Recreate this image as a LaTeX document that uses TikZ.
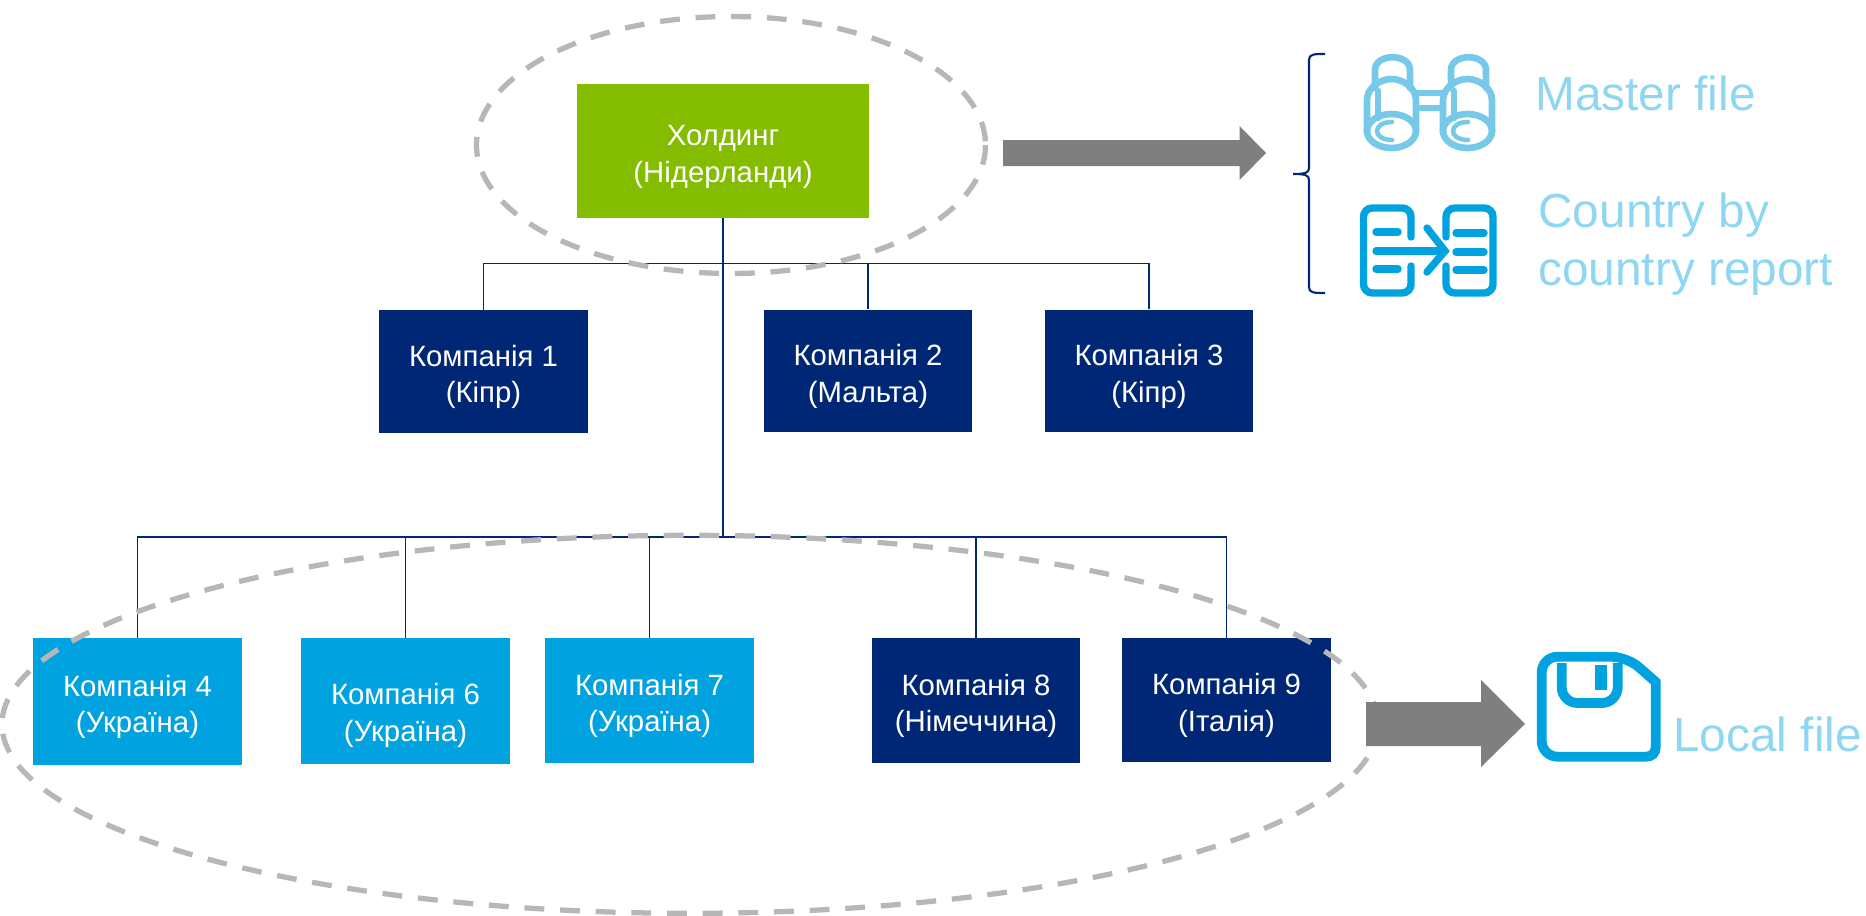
\documentclass[tikz,border=0pt]{standalone}
\usepackage{fontspec}
\setmainfont{Liberation Sans}
\definecolor{navybox}{HTML}{002776}
\definecolor{bluebox}{HTML}{00A3E0}
\definecolor{greenbox}{HTML}{84BD00}
\definecolor{ringgray}{HTML}{B7B7B7}
\definecolor{arrowgray}{HTML}{7F7F7F}
\definecolor{iconblue}{HTML}{76C9E8}
\definecolor{textblue}{HTML}{8FD6F2}
\newcommand{\comptext}[2]{\rule{0pt}{18.3pt}#1\\#2}
\tikzset{
  compbox/.style={rectangle,minimum width=4.18cm,minimum height=2.46cm,inner sep=0,
    text=white,align=center,font=\fontsize{16.7}{21}\selectfont},
  navycomp/.style={compbox,fill=navybox},
  bluecomp/.style={compbox,fill=bluebox},
  busline/.style={draw=navybox,line width=1pt},
  ring/.style={draw=ringgray,line width=3pt,dash pattern=on 11.3pt off 9pt},
  bigarrow/.style={fill=arrowgray},
  filetext/.style={inner sep=0,text=textblue,align=left,font=\fontsize{27.2}{32.9}\selectfont},
  bino/.style={draw=iconblue,line width=3.8pt,line cap=round},
  docicon/.style={draw=bluebox,line width=4.2pt,line cap=round,rounded corners=5pt},
  floppy/.style={draw=bluebox,line width=5.6pt}
}

\begin{document}
\begin{tikzpicture}[x=0.02cm,y=-0.02cm]
  \useasboundingbox (0,0) rectangle (1866,916);
  % boxes
  \node[compbox,fill=greenbox,minimum width=5.84cm,minimum height=2.68cm] (hold) at (723,151) {\comptext{Холдинг}{(Нідерланди)}};
  \node[navycomp] (comp1) at (483.5,371.5) {\comptext{Компанія 1}{(Кіпр)}};
  \node[navycomp] (comp2) at (868,371) {\comptext{Компанія 2}{(Мальта)}};
  \node[navycomp] (comp3) at (1149,371) {\comptext{Компанія 3}{(Кіпр)}};
  \node[bluecomp,minimum height=2.54cm] (comp4) at (137.5,701.5) {\comptext{Компанія 4}{(Україна)}};
  \node[bluecomp,minimum height=2.52cm] (comp6) at (405.5,701) {};
  \node[compbox,minimum height=0] (comp6text) at (405.5,710) {\comptext{Компанія 6}{(Україна)}};
  \node[bluecomp,minimum height=2.5cm] (comp7) at (649.5,700.5) {\comptext{Компанія 7}{(Україна)}};
  \node[navycomp,minimum height=2.5cm] (comp8) at (976,700.5) {\comptext{Компанія 8}{(Німеччина)}};
  \node[navycomp,minimum height=2.48cm] (comp9) at (1226.5,700) {\comptext{Компанія 9}{(Італія)}};
  % lines
  \coordinate (busa) at (723,263.5);
  \coordinate (busb) at (723,537);
  \draw[busline] (hold.south) -- (busb);
  \draw[busline] (comp1.north) |- (busa);
  \draw[busline] (comp2.north) |- (busa);
  \draw[busline] (comp3.north) |- (busa);
  \draw[busline] (comp4.north) |- (busb);
  \draw[busline] (comp6.north) |- (busb);
  \draw[busline] (comp7.north) |- (busb);
  \draw[busline] (comp8.north) |- (busb);
  \draw[busline] (comp9.north) |- (busb);
  % dashed rings
  \draw[ring] (731,145) ellipse (254.5 and 128.5);
  \draw[ring] (690,724.3) ellipse (688 and 189);
  % arrows
  \fill[bigarrow] (1003,140) -- (1239.5,140) -- (1239.5,126) -- (1266,153) -- (1239.5,180) -- (1239.5,166) -- (1003,166) -- cycle;
  \fill[bigarrow] (1366,702) -- (1481,702) -- (1481,680) -- (1525,724) -- (1481,767) -- (1481,746) -- (1366,746) -- cycle;
  % brace
  \draw[navybox,line width=1.2pt] (1325,54) .. controls (1314,54) and (1309,54) .. (1309,60) -- (1309,168)
    .. controls (1309,173) and (1305,174) .. (1293,174) .. controls (1305,174) and (1309,175) .. (1309,180) -- (1309,287)
    .. controls (1309,293) and (1314,293) .. (1325,293);
  % binoculars
  \foreach \dx in {0,76}{
    \begin{scope}[xshift=\dx*0.02cm]
      \draw[bino] (1375,88) -- (1375,70) .. controls (1375,53) and (1410,53) .. (1410,70) -- (1410,88);
      \draw[bino] (1367,132) -- (1367,100) .. controls (1367,88) and (1380,79) .. (1391.5,79)
        .. controls (1403,79) and (1416,88) .. (1416,100) -- (1416,132);
      \draw[bino] (1391.5,131) ellipse (24.5 and 17);
      \draw[bino] (1378,91) -- (1378,118);
      \draw[bino,line width=2.6pt] (1392,122) .. controls (1372,122) and (1372,140) .. (1392,140);
    \end{scope}
  }
  \draw[bino,line cap=butt] (1416,93) -- (1444,93);
  \draw[bino,line cap=butt] (1416,108) -- (1444,108);
  % report icon
  \draw[docicon] (1411,237) -- (1411,208) -- (1363.5,208) -- (1363.5,293) -- (1411,293) -- (1411,266);
  \draw[docicon] (1446,237) -- (1446,208) -- (1493,208) -- (1493,293) -- (1446,293) -- (1446,266);
  \draw[docicon] (1376,232) -- (1398,232);
  \draw[docicon] (1376,269) -- (1398,269);
  \draw[docicon] (1376,251) -- (1443,251);
  \draw[docicon,rounded corners=0pt] (1427,228) -- (1445,251) -- (1427,272);
  \foreach \yy in {233,252,270}{
    \draw[docicon] (1456,\yy) -- (1484,\yy);
  }
  % floppy
  \draw[floppy,rounded corners=9pt] (1541.7,690) -- (1541.7,656.7) -- (1627,656.7) [sharp corners] -- (1655.7,682)
    -- (1655.7,747) .. controls (1655.7,753) and (1652,756.7) .. (1646,756.7) [rounded corners=9pt] -- (1541.7,756.7) -- (1541.7,690);
  \draw[floppy,rounded corners=9pt] (1561.7,663) -- (1561.7,703) -- (1617.7,703) -- (1617.7,663);
  \fill[bluebox] (1595,665) rectangle (1607,690);
  % texts
  \node[filetext,anchor=base west] (masterfile) at (1535,110) {Master file};
  \node[filetext,anchor=west] (cbcr) at (1538,244) {Country by\\country report};
  \node[filetext,anchor=base west] (localfile) at (1673,751) {Local file};
\end{tikzpicture}
\end{document}
